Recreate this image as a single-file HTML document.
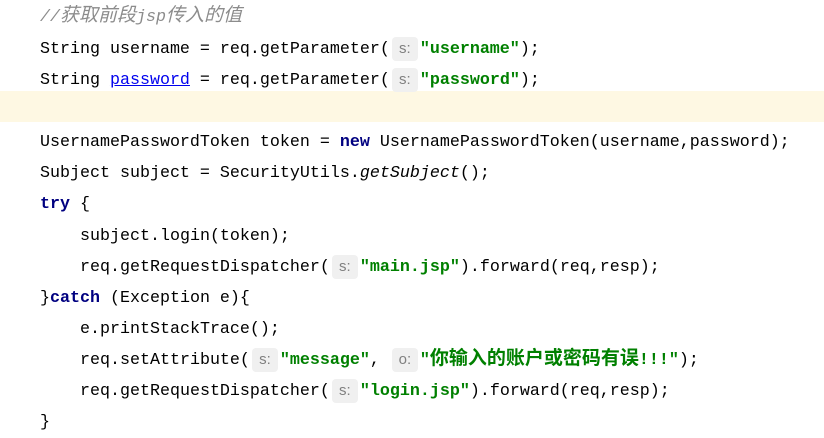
<!DOCTYPE html>
<html><head><meta charset="utf-8"><style>
html,body{margin:0;padding:0;background:#fff;width:824px;height:414px;overflow:hidden}
.l{position:absolute;left:0;height:31px;line-height:31px;white-space:pre;font-family:"Liberation Mono","Noto Sans CJK SC",monospace;font-size:16.67px;color:#000}
.hl{position:absolute;left:0;top:91px;width:824px;height:31px;background:#fef8e3}
.c{color:#8c8c8c;font-style:italic}
.k{color:#000080;font-weight:bold}
.s{color:#008000;font-weight:bold}
.cn{font-family:"Noto Sans CJK SC",sans-serif;font-size:19px;font-weight:bold;line-height:1}
.cnc{font-family:"Noto Sans CJK SC",sans-serif;font-size:19px;line-height:1}
.b{display:inline-block;width:26px;height:24px;line-height:24px;margin:0 2px 0 2px;background:#f0f0f0;border-radius:4px;color:#808080;font-family:"Liberation Sans",sans-serif;font-size:15px;text-align:center;vertical-align:middle;font-style:normal;font-weight:normal}
.u{color:#0000ee;text-decoration:underline}
.i{font-style:italic}
</style></head><body>
<div class="hl"></div>
<div class="l" style="top:2px;left:40px"><span class="c">//<span class="cnc">获取前段</span>jsp<span class="cnc">传入的值</span></span></div>
<div class="l" style="top:34px;left:40px">String username = req.getParameter(<span class="b">s:</span><span class="s">"username"</span>);</div>
<div class="l" style="top:65px;left:40px">String <span class="u">password</span> = req.getParameter(<span class="b">s:</span><span class="s">"password"</span>);</div>
<div class="l" style="top:127px;left:40px">UsernamePasswordToken token = <span class="k">new</span> UsernamePasswordToken(username,password);</div>
<div class="l" style="top:158px;left:40px">Subject subject = SecurityUtils.<span class="i">getSubject</span>();</div>
<div class="l" style="top:189px;left:40px"><span class="k">try</span> {</div>
<div class="l" style="top:221px;left:80px">subject.login(token);</div>
<div class="l" style="top:252px;left:80px">req.getRequestDispatcher(<span class="b">s:</span><span class="s">"main.jsp"</span>).forward(req,resp);</div>
<div class="l" style="top:283px;left:40px">}<span class="k">catch</span> (Exception e){</div>
<div class="l" style="top:314px;left:80px">e.printStackTrace();</div>
<div class="l" style="top:345px;left:80px">req.setAttribute(<span class="b">s:</span><span class="s">"message"</span>, <span class="b">o:</span><span class="s">"<span class="cn">你输入的账户或密码有误</span>!!!"</span>);</div>
<div class="l" style="top:376px;left:80px">req.getRequestDispatcher(<span class="b">s:</span><span class="s">"login.jsp"</span>).forward(req,resp);</div>
<div class="l" style="top:407px;left:40px">}</div>
</body></html>
